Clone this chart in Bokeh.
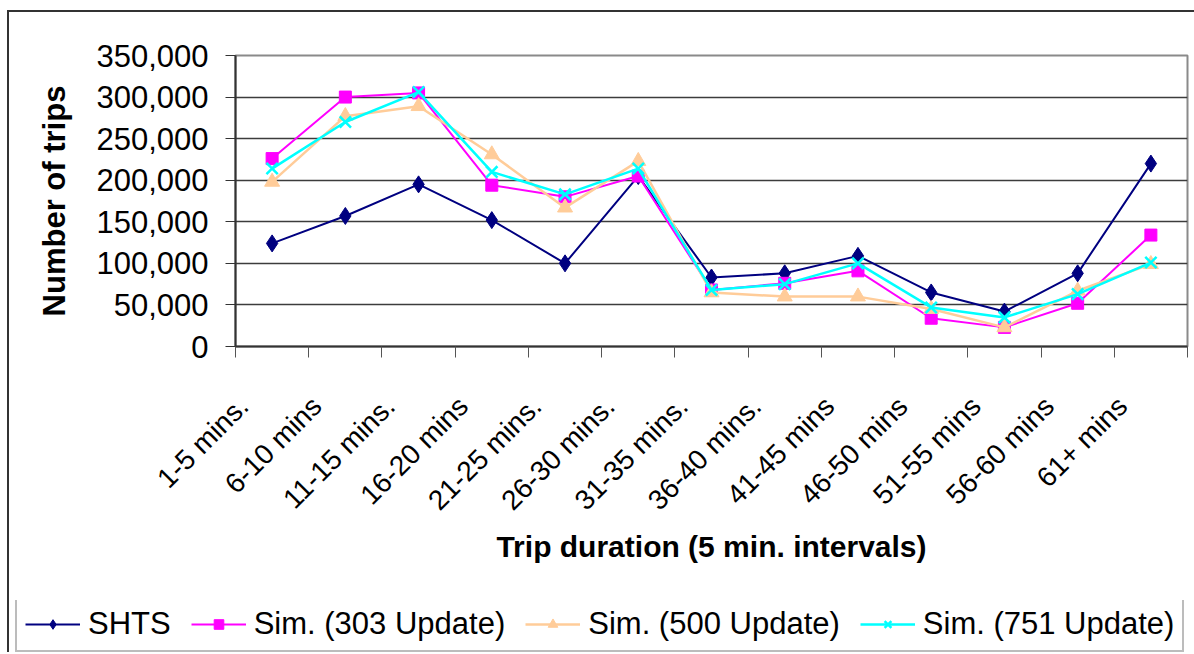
from math import pi

from bokeh.embed import file_html
from bokeh.layouts import column
from bokeh.models import (ColumnDataSource, FixedTicker, Legend,
                          LegendItem, LinearAxis, NumeralTickFormatter, Range1d)
from bokeh.plotting import figure
from bokeh.resources import INLINE

# Trip-duration bins (5-minute intervals)
durations = ["1-5 mins.", "6-10 mins", "11-15 mins.", "16-20 mins", "21-25 mins.",
             "26-30 mins.", "31-35 mins.", "36-40 mins.", "41-45 mins", "46-50 mins",
             "51-55 mins", "56-60 mins", "61+ mins"]

# Number of trips per bin
shts = [124000, 157000, 195000, 152000, 100000, 205000, 83000, 88000, 109000, 65000, 42000, 88000, 220000]
sim_303 = [226000, 300000, 305000, 194000, 180000, 205000, 68000, 76000, 91000, 34000, 23000, 52000, 134000]
sim_500 = [198000, 277000, 289000, 231000, 167000, 223000, 65000, 60000, 60000, 45000, 23000, 67000, 99000]
sim_751 = [214000, 270000, 306000, 210000, 183000, 214000, 68000, 75000, 100000, 47000, 35000, 63000, 101000]

y_ticks = [0, 50000, 100000, 150000, 200000, 250000, 300000, 350000]

FONT = "Liberation Sans"
LABEL_SHIFT = 0.39  # slanted labels end a little left of the bin centre

x_idx = list(range(len(durations)))

p = figure(width=1185, height=588, output_backend="svg", toolbar_location=None,
           x_range=Range1d(-0.5, len(durations) - 0.5), y_range=Range1d(0, 350000),
           min_border_left=226, min_border_right=7, min_border_top=43, min_border_bottom=254)
p.frame_align = False
p.background_fill_color = "white"
p.border_fill_color = "white"
p.outline_line_color = "#8a8a8a"
p.outline_line_width = 2

# Y axis
p.yaxis.ticker = FixedTicker(ticks=y_ticks)
p.yaxis.formatter = NumeralTickFormatter(format="0,0")
p.yaxis.major_label_text_font = FONT
p.yaxis.major_label_text_font_size = "31px"
p.yaxis.major_label_text_color = "black"
p.yaxis.major_label_standoff = 17
p.yaxis.major_tick_out = 10
p.yaxis.major_tick_in = 0
p.yaxis.minor_tick_line_color = None
p.yaxis.axis_line_color = "#333333"
p.yaxis.axis_line_width = 2
p.yaxis.major_tick_line_color = "#333333"
p.yaxis.axis_label = "Number of trips"
p.yaxis.axis_label_text_font = FONT
p.yaxis.axis_label_text_font_size = "31px"
p.yaxis.axis_label_text_font_style = "bold"
p.yaxis.axis_label_text_color = "black"
p.yaxis.axis_label_standoff = 21

# X axis: tick marks on the bin boundaries, no labels of its own
boundaries = [i - 0.5 for i in range(len(durations) + 1)]
p.xaxis.ticker = FixedTicker(ticks=boundaries)
p.xaxis.major_label_overrides = {b: "" for b in boundaries}
p.xaxis.major_label_text_font_size = "1px"
p.xaxis.major_label_standoff = 0
p.xaxis.major_tick_out = 11
p.xaxis.major_tick_in = 0
p.xaxis.minor_tick_line_color = None
p.xaxis.axis_line_color = "#333333"
p.xaxis.axis_line_width = 2
p.xaxis.major_tick_line_color = "#555555"

# Second bottom axis carrying the slanted bin names and the title
label_pos = [round(i - LABEL_SHIFT, 2) for i in x_idx]
lab_axis = LinearAxis(ticker=FixedTicker(ticks=label_pos),
                      major_label_overrides={pos: name for pos, name in zip(label_pos, durations)},
                      major_label_orientation=pi / 4,
                      major_label_text_font=FONT, major_label_text_font_size="28px",
                      major_label_text_color="black", major_label_standoff=44,
                      axis_line_color=None, major_tick_line_color=None,
                      minor_tick_line_color=None, major_tick_out=0, major_tick_in=0,
                      axis_label="Trip duration (5 min. intervals)",
                      axis_label_text_font=FONT, axis_label_text_font_size="30px",
                      axis_label_text_font_style="bold", axis_label_text_color="black",
                      axis_label_standoff=0)
p.add_layout(lab_axis, "below")

p.xgrid.grid_line_color = None
p.ygrid.ticker = FixedTicker(ticks=y_ticks)
p.ygrid.grid_line_color = "#3c3c3c"
p.ygrid.grid_line_width = 1.5

# Legend strip underneath the chart
leg = figure(width=1185, height=52, output_backend="svg", toolbar_location=None,
             x_axis_type=None, y_axis_type=None, min_border=0,
             x_range=Range1d(-0.5, len(durations) - 0.5), y_range=Range1d(400000, 500000))
leg.frame_align = False
leg.outline_line_color = None
leg.background_fill_color = "white"
leg.border_fill_color = "white"
leg.xgrid.grid_line_color = None
leg.ygrid.grid_line_color = None

# Series
series = [
    ("SHTS", shts, "#000080", "diamond", 17, 2),
    ("Sim. (303 Update)", sim_303, "#ff00ff", "square", 12, 2),
    ("Sim. (500 Update)", sim_500, "#ffcc99", "triangle", 15, 2.5),
    ("Sim. (751 Update)", sim_751, "#00ffff", "x", 16, 2.5),
]
items = []
for name, vals, color, marker, size, lw in series:
    src = ColumnDataSource(dict(x=x_idx, y=vals))
    for fig in (p, leg):
        ln = fig.line("x", "y", source=src, line_color=color, line_width=lw)
        mk = fig.scatter("x", "y", source=src, marker=marker, size=size,
                         fill_color=color, line_color=color,
                         line_width=2.5 if marker == "x" else 1)
    items.append(LegendItem(label=name, renderers=[ln, mk]))

legend = Legend(items=items, orientation="horizontal", location=(6, 0),
                label_text_font=FONT, label_text_font_size="31px", label_text_color="black",
                glyph_width=55, glyph_height=24, label_standoff=8, spacing=20,
                padding=8, margin=0,
                border_line_color="#7a7a7a", border_line_width=2,
                background_fill_color="white", background_fill_alpha=1)
leg.add_layout(legend, "center")

# Outer chart border (top and left edges)
page = column(p, leg, spacing=0, margin=(10, 0, 0, 7),
              styles={"border-top": "2px solid #333333", "border-left": "2px solid #333333"})

open("out.html", "w").write(file_html(page, INLINE))
